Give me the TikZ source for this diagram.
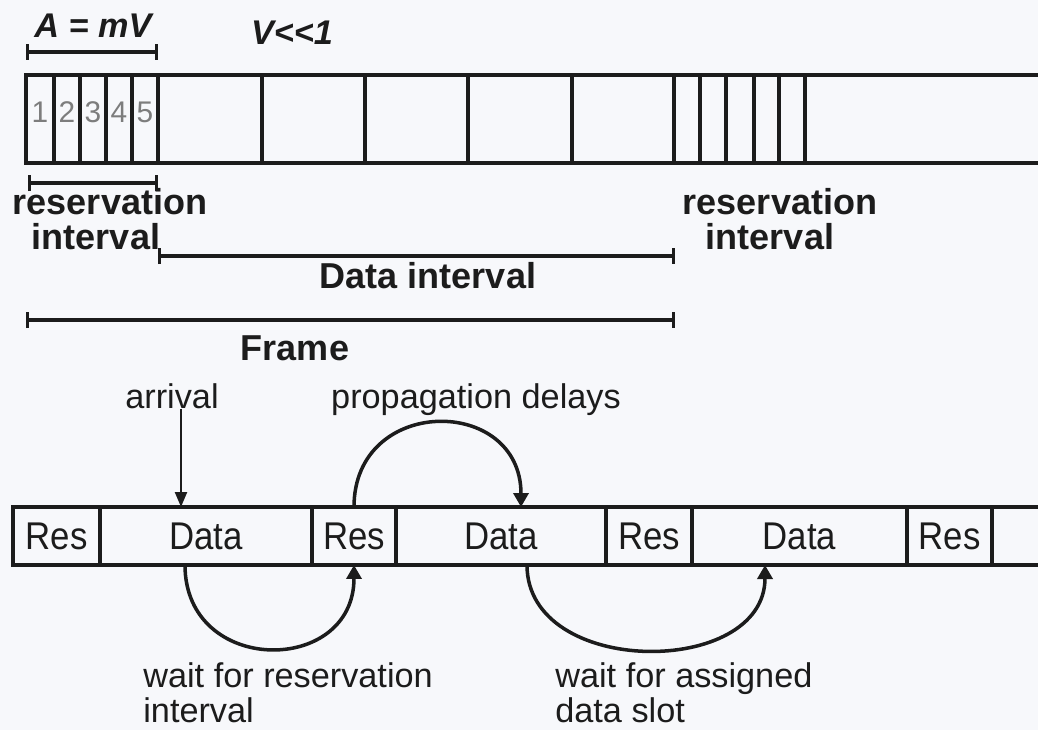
\documentclass[tikz,border=0pt]{standalone}
\usepackage{fontspec}
\setmainfont{Liberation Sans}
\newfontfamily\boxfont{Liberation Sans}[FakeStretch=0.9]
\usetikzlibrary{arrows.meta}
\definecolor{ink}{RGB}{28,28,28}
\definecolor{paper}{RGB}{247,248,251}
\definecolor{slotnum}{RGB}{125,125,125}
\tikzset{
  strip/.style={draw=ink,line width=2.7pt},
  span/.style={draw=ink,line width=1.9pt,{Bar[width=0.32cm]}-{Bar[width=0.32cm]}},
  toplbl/.style={text=ink,inner sep=0pt,anchor=base,font=\bfseries\fontsize{20.5}{21}\selectfont},
  lbl/.style={text=ink,inner sep=0pt,font=\fontsize{19.5}{20}\selectfont},
  slot/.style={draw=ink,line width=2.3pt,inner sep=0pt,outer sep=0pt,minimum height=1.16cm,text=ink,font=\boxfont\fontsize{22}{24}\selectfont},
  hop/.style={draw=ink,line width=2pt,-{Triangle[length=0.28cm,width=0.3cm]}},
}
\begin{document}
\begin{tikzpicture}[x=0.02cm,y=-0.02cm]
\fill[paper] (0,0) rectangle (1038,730);
\useasboundingbox (0,0) rectangle (1038,730);
% slot strip with reservation minislots
\draw[strip] (1038,75) -- (26,75) -- (26,163) -- (1038,163);
\foreach \x in {54,80,106,132,158,262,365,468,572,674,700,726,754,779,805}
  \draw[strip] (\x,75) -- (\x,163);
\foreach \n/\x in {1/40,2/67,3/93,4/119,5/145}
  \node[text=slotnum,inner sep=0pt,anchor=base,font=\fontsize{17}{17}\selectfont] (num\n) at (\x,122) {\n};
\node[toplbl,font=\bfseries\itshape\fontsize{19.5}{20}\selectfont] (amv) at (93,37) {A = mV};
\node[toplbl,font=\bfseries\itshape\fontsize{19.5}{20}\selectfont] (vsmall) at (292,44) {V{<}{<}1};
\draw[span] (26,52) -- (158,52);
% interval spans
\draw[span] (28,183) -- (158,183);
\node[toplbl] (resL) at (110,214) {reservation};
\node[toplbl] (intL) at (96,249) {interval};
\node[toplbl] (resR) at (780,214) {reservation};
\node[toplbl] (intR) at (770,249) {interval};
\draw[span] (158,256) -- (675,256);
\node[toplbl] (dint) at (428,288) {Data interval};
\draw[span] (26,320) -- (675,320);
\node[toplbl] (frame) at (295,360) {Frame};
% frame with Res/Data slots
\node[slot,minimum width=1.74cm] (r1) at (56.5,536) {Res};
\node[slot,minimum width=4.24cm] (d1) at (206,536) {Data};
\node[slot,minimum width=1.68cm] (r2) at (354,536) {Res};
\node[slot,minimum width=4.2cm] (d2) at (501,536) {Data};
\node[slot,minimum width=1.72cm] (r3) at (649,536) {Res};
\node[slot,minimum width=4.3cm] (d3) at (799.5,536) {Data};
\node[slot,minimum width=1.7cm] (r4) at (949.5,536) {Res};
\draw[draw=ink,line width=2.3pt] (r4.north east) -- ++(46,0) (r4.south east) -- ++(46,0);
% labels
\node[lbl,anchor=base] (arrival) at (172,408) {arrival};
\node[lbl,anchor=base] (prop) at (476,408) {propagation delays};
\node[lbl,anchor=base west] (waitres) at (143,687) {wait for reservation};
\node[lbl,anchor=base west] (waitres2) at (143,722) {interval};
\node[lbl,anchor=base west] (waitdat) at (555,687) {wait for assigned};
\node[lbl,anchor=base west] (waitdat2) at (555,722) {data slot};
% arrows
\coordinate (arrB) at (181,507);
\coordinate (propB) at (521,507);
\coordinate (waitA) at (185,565);
\coordinate (waitB) at (527,565);
\coordinate (waitC) at (765,565);
\draw[draw=ink,line width=1.3pt,-{Triangle[length=0.3cm,width=0.24cm]}] (arrival.south -| arrB) -- (arrB);
\draw[hop] (r2.north) .. controls +(0,-112) and +(0,-112) .. (propB);
\draw[hop] (waitA) .. controls +(0,111) and +(0,111) .. (r2.south);
\draw[hop] (waitB) .. controls +(0,113) and +(0,113) .. (waitC);
\end{tikzpicture}
\end{document}
